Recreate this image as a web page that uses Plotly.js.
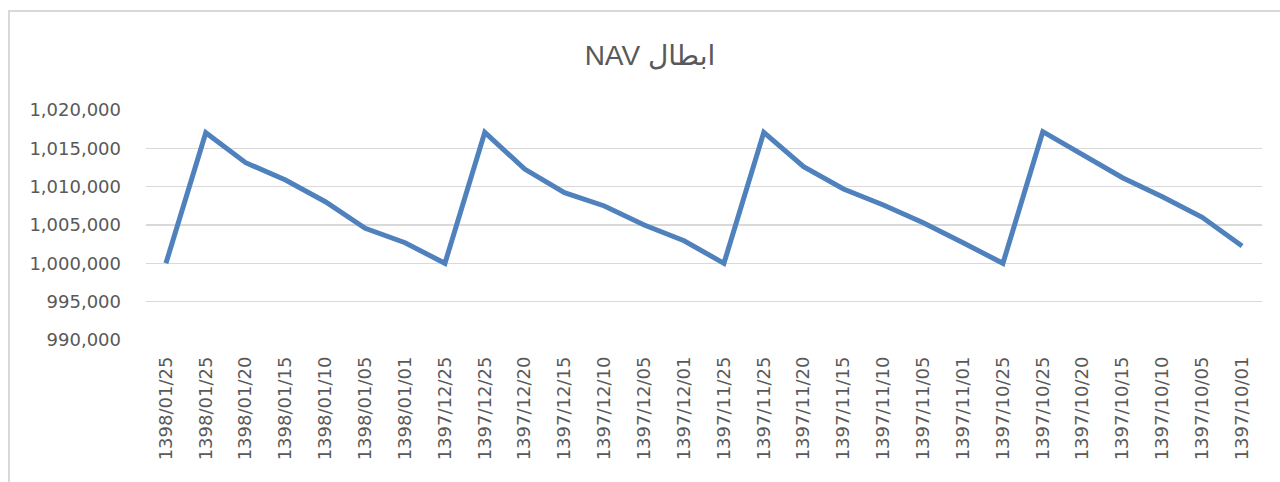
<!DOCTYPE html>
<html>
<head>
<meta charset="utf-8">
<script src="https://cdn.plot.ly/plotly-3.0.1.min.js"></script>
<style>
  html, body { margin: 0; padding: 0; background: #ffffff; overflow: hidden; }
  #chart { position: absolute; left: 0; top: 0; width: 1280px; height: 482px; }
  #frame { position: absolute; left: 8px; top: 10px; width: 1300px; height: 500px;
           border: 2px solid #d9d9d9; pointer-events: none; }
</style>
</head>
<body>
<div id="chart"></div>
<div id="frame"></div>
<script>
const chartTitle = 'ابطال NAV';
const dateLabels = [
  '1398/01/25','1398/01/25','1398/01/20','1398/01/15','1398/01/10','1398/01/05','1398/01/01',
  '1397/12/25','1397/12/25','1397/12/20','1397/12/15','1397/12/10','1397/12/05','1397/12/01',
  '1397/11/25','1397/11/25','1397/11/20','1397/11/15','1397/11/10','1397/11/05','1397/11/01',
  '1397/10/25','1397/10/25','1397/10/20','1397/10/15','1397/10/10','1397/10/05','1397/10/01'
];
const navValues = [
  1000000, 1017040, 1013130, 1010870, 1008040, 1004570, 1002690,
  1000000, 1017090, 1012300, 1009220, 1007480, 1005000, 1002950,
  1000000, 1017090, 1012600, 1009700, 1007610, 1005300, 1002690,
  1000000, 1017170, 1014130, 1011170, 1008690, 1006000, 1002260
];
const yTicks = [990000, 995000, 1000000, 1005000, 1010000, 1015000, 1020000];

const positions = dateLabels.map((_, i) => i);

const trace = {
  x: positions,
  y: navValues,
  type: 'scatter',
  mode: 'lines',
  line: { color: '#4f81bd', width: 5, shape: 'linear' },
  hoverinfo: 'skip'
};

const font = 'DejaVu Sans, Liberation Sans, sans-serif';
const layout = {
  width: 1280,
  height: 482,
  paper_bgcolor: 'rgba(0,0,0,0)',
  plot_bgcolor: '#ffffff',
  margin: { l: 146, r: 18, t: 110, b: 142, pad: 0 },
  showlegend: false,
  title: {
    // RTL embedding so the title reads as in the right-to-left original
    text: '\u202B' + chartTitle + '\u202C',
    font: { family: 'Liberation Sans, DejaVu Sans, sans-serif', size: 28, color: '#595959' },
    x: 650 / 1280, xanchor: 'center',
    y: 1 - 55 / 482, yanchor: 'middle',
    xref: 'container', yref: 'container'
  },
  xaxis: {
    type: 'linear',
    range: [-0.5, dateLabels.length - 0.5],
    tickvals: positions,
    ticktext: dateLabels,
    tickangle: -90,
    tickfont: { family: font, size: 18, color: '#595959' },
    ticks: '',
    ticklabelstandoff: 12,
    showgrid: false,
    zeroline: false,
    showline: false,
    fixedrange: true
  },
  yaxis: {
    range: [990000, 1020000],
    tickvals: yTicks,
    tickformat: ',d',
    tickfont: { family: font, size: 18, color: '#595959' },
    ticks: '',
    ticklabelstandoff: 24,
    showgrid: true,
    gridcolor: '#d9d9d9',
    gridwidth: 1.5,
    zeroline: false,
    showline: false,
    fixedrange: true
  }
};

Plotly.newPlot('chart', [trace], layout, { displayModeBar: false, staticPlot: true });
</script>
</body>
</html>
